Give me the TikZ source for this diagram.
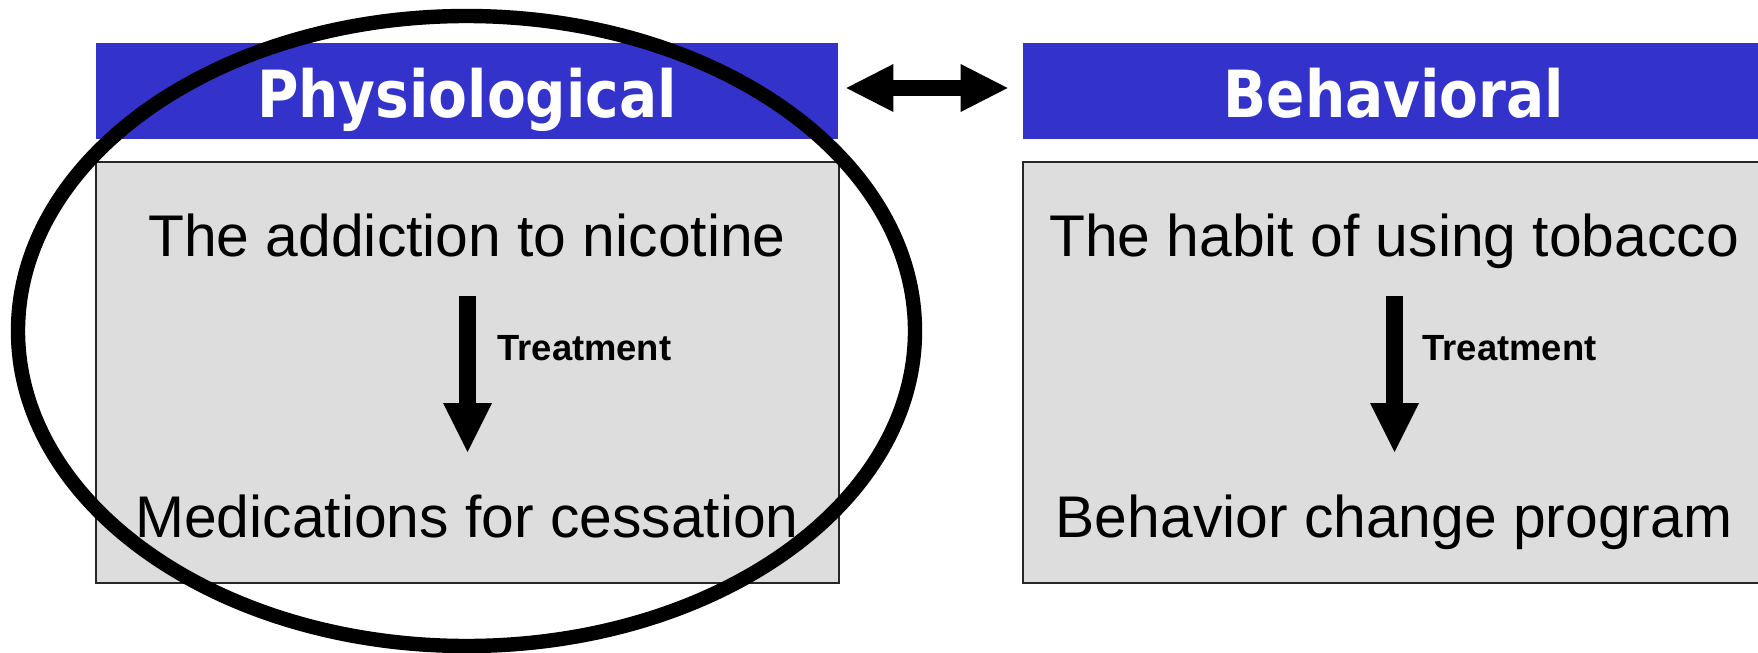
\documentclass[tikz,border=0pt]{standalone}
\usepackage{fontspec}
\setmainfont{Liberation Sans}
\newfontfamily\hdfont{DejaVu Sans}
\usetikzlibrary{arrows.meta}
\definecolor{hdblue}{HTML}{3333CC}
\definecolor{boxgray}{HTML}{DDDDDD}
\tikzset{
  header/.style={rectangle, fill=hdblue, draw=none, minimum width=371pt, minimum height=48pt, inner sep=0pt},
  hdtext/.style={anchor=base, inner sep=0pt, text=white, font=\hdfont\bfseries\fontsize{32.5pt}{36pt}\selectfont},
  panel/.style={rectangle, fill=boxgray, draw=black!85, line width=1pt, minimum width=371.5pt, minimum height=210.5pt, inner sep=0pt},
  bodytext/.style={anchor=base, inner sep=0pt, font=\fontsize{29.4pt}{34pt}\selectfont},
  treat/.style={anchor=base west, inner sep=0pt, font=\bfseries\fontsize{18.2pt}{22pt}\selectfont},
  downarrow/.style={line width=8.5pt, -{Triangle[width=24.5pt,length=24.5pt,line width=0pt]}},
  dblarrow/.style={line width=8pt, {Triangle[width=24pt,length=23.5pt,line width=0pt]}-{Triangle[width=24pt,length=23.5pt,line width=0pt]}},
  ring/.style={draw=black, line width=7.2pt}
}
\begin{document}
\begin{tikzpicture}[x=0.5pt,y=-0.5pt]
\useasboundingbox (0,0) rectangle (1758,653);
\clip (0,0) rectangle (1758,653);
\fill[white] (0,0) rectangle (1758,653);
% headers
\node[header] (phys) at (467,91) {};
\node[header, minimum width=371.5pt] (beh) at (1394.5,91) {};
\node[hdtext] (physT) at (467,117) {\scalebox{0.87}[1]{Physiological}};
\node[hdtext] (behT) at (1394,117) {\scalebox{0.87}[1]{Behavioral}};
% panels
\node[panel] (lp) at (467.5,372.5) {};
\node[panel] (rp) at (1394.5,372.5) {};
% texts
\node[bodytext] (addict) at (467,256) {The addiction to nicotine};
\node[bodytext] (meds) at (467,537) {Medications for cessation};
\node[bodytext] (habit) at (1394,256) {The habit of using tobacco};
\node[bodytext] (prog) at (1394,537) {Behavior change program};
\node[treat] (lt) at (497,360) {Treatment};
\node[treat] (rt) at (1422,360) {Treatment};
% arrows
\coordinate (la1) at (467.5,296);
\coordinate (la2) at (467.5,452);
\coordinate (ra1) at (1394.5,296);
\coordinate (ra2) at (1394.5,452);
\draw[downarrow] (la1) -- (la2);
\draw[downarrow] (ra1) -- (ra2);
\draw[dblarrow, shorten <=4pt, shorten >=7.5pt] ([yshift=1.5pt]phys.east) -- ([yshift=1.5pt]beh.west);
% highlight ellipse
\draw[ring] (466.5,331) ellipse [x radius=448.5, y radius=315];
\end{tikzpicture}
\end{document}
